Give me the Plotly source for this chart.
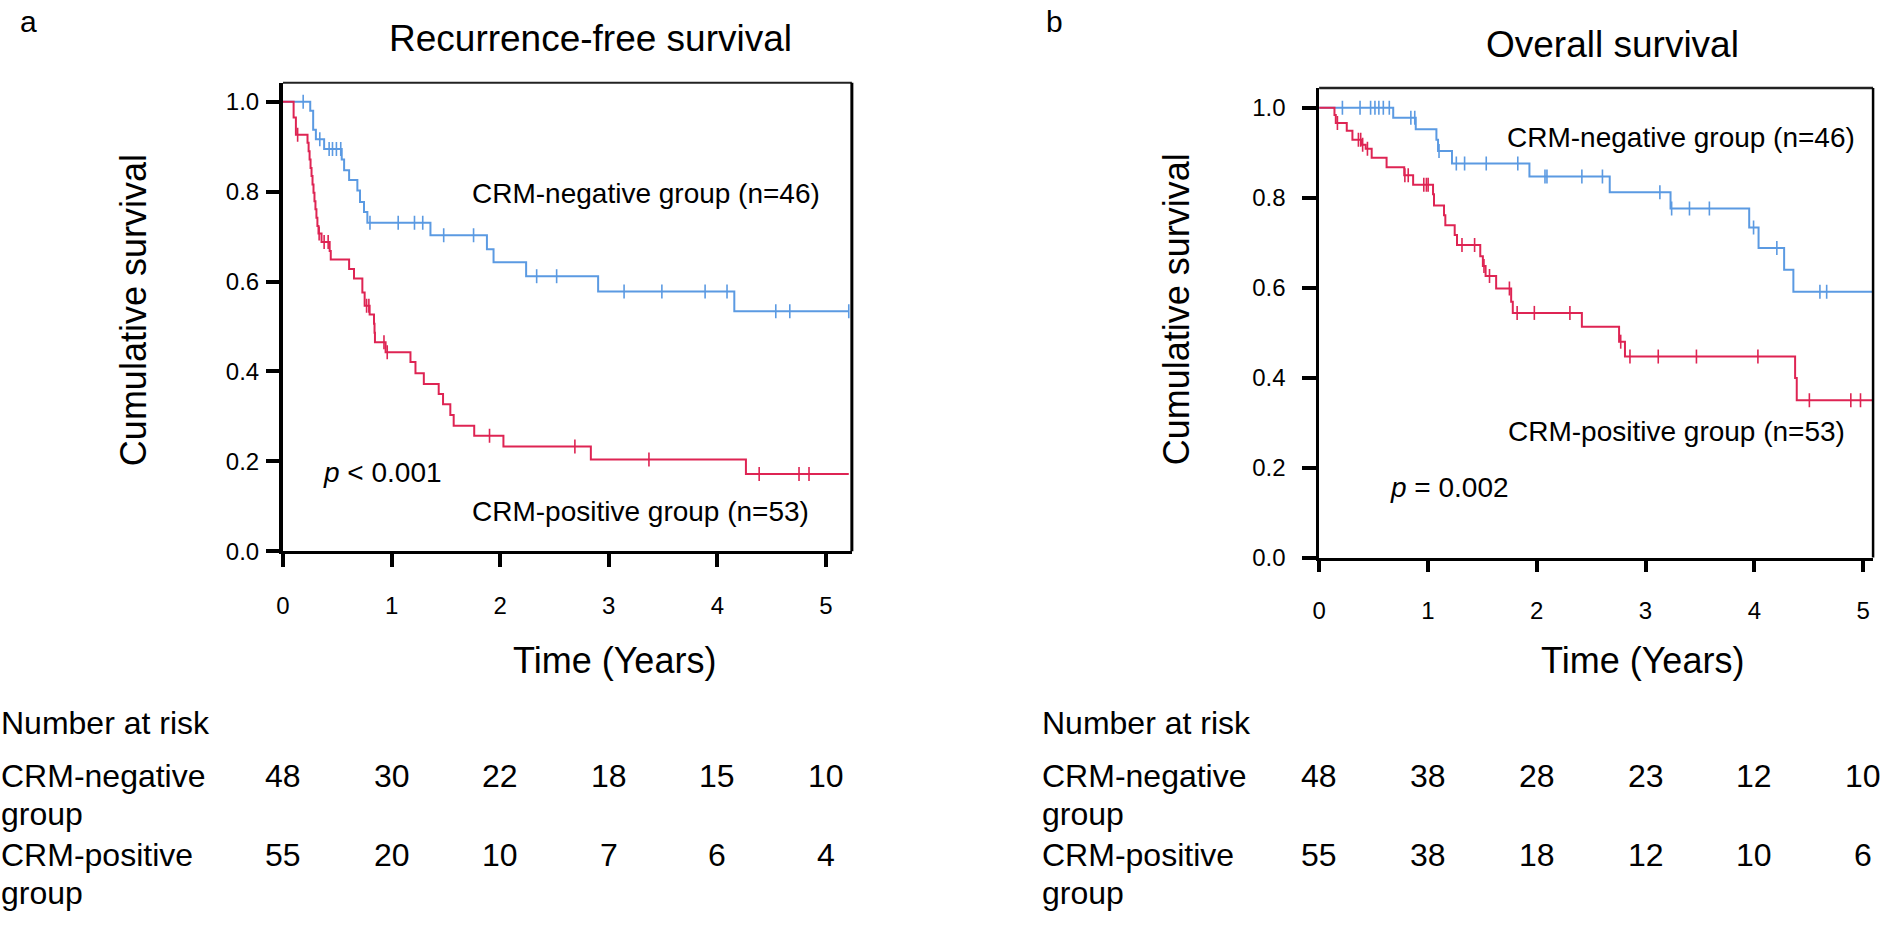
import numpy as np
import plotly.graph_objects as go

# ---------------- data ----------------
# Recurrence-free survival, CRM-negative group
rfs_neg_time = [0.251, 0.278, 0.303, 0.379, 0.541, 0.563, 0.609, 0.685, 0.709, 0.746,
                0.777, 1.358, 1.878, 1.939, 2.239, 2.902, 4.156]
rfs_neg_surv = [0.980, 0.938, 0.917, 0.895, 0.872, 0.848, 0.826, 0.803, 0.777, 0.755,
                0.731, 0.703, 0.672, 0.643, 0.612, 0.578, 0.534]
rfs_neg_cens = [0.186, 0.339, 0.425, 0.456, 0.492, 0.532, 0.801, 1.061, 1.211, 1.287,
                1.480, 1.755, 2.336, 2.520, 3.141, 3.489, 3.887, 4.089, 4.538, 4.667, 5.21]

# Recurrence-free survival, CRM-positive group
rfs_pos_time = [0.098, 0.119, 0.226, 0.236, 0.245, 0.254, 0.263, 0.272, 0.281, 0.290,
                0.299, 0.308, 0.317, 0.327, 0.355, 0.430, 0.440, 0.609, 0.654, 0.731,
                0.752, 0.798, 0.838, 0.843, 0.847, 0.945, 1.174, 1.220, 1.297, 1.434,
                1.474, 1.541, 1.572, 1.761, 2.030, 2.835, 4.263]
rfs_pos_surv = [0.965, 0.927, 0.909, 0.890, 0.872, 0.853, 0.835, 0.816, 0.798, 0.779,
                0.761, 0.742, 0.724, 0.707, 0.688, 0.668, 0.649, 0.628, 0.607, 0.576,
                0.546, 0.527, 0.506, 0.486, 0.465, 0.443, 0.421, 0.396, 0.372, 0.350,
                0.327, 0.303, 0.279, 0.257, 0.233, 0.204, 0.172]
rfs_pos_cens = [0.135, 0.333, 0.379, 0.416, 0.770, 0.791, 0.930, 0.960, 1.902, 2.688,
                3.370, 4.385, 4.752, 4.844]

# Overall survival, CRM-negative group
os_neg_time = [0.681, 0.888, 1.078, 1.093, 1.221, 1.933, 2.671, 3.230, 3.953, 4.039,
               4.274, 4.359]
os_neg_surv = [0.978, 0.952, 0.929, 0.904, 0.876, 0.847, 0.812, 0.776, 0.734, 0.688,
               0.640, 0.591]
os_neg_cens = [0.214, 0.376, 0.473, 0.513, 0.549, 0.590, 0.645, 0.843, 0.879, 1.102,
               1.261, 1.337, 1.536, 1.826, 2.076, 2.094, 2.415, 2.604, 3.132, 3.240,
               3.404, 3.587, 3.993, 4.207, 4.603, 4.665]

# Overall survival, CRM-positive group
os_pos_time = [0.141, 0.153, 0.254, 0.306, 0.391, 0.428, 0.483, 0.620, 0.782, 0.864,
               1.047, 1.056, 1.148, 1.160, 1.246, 1.267, 1.481, 1.505, 1.530, 1.627,
               1.765, 1.780, 2.415, 2.757, 2.811, 4.375, 4.390]
os_pos_surv = [0.984, 0.966, 0.949, 0.929, 0.918, 0.909, 0.889, 0.868, 0.850, 0.829,
               0.808, 0.783, 0.761, 0.739, 0.717, 0.695, 0.670, 0.648, 0.626, 0.598,
               0.569, 0.544, 0.513, 0.480, 0.447, 0.399, 0.350]
os_pos_cens = [0.168, 0.361, 0.382, 0.400, 0.444, 0.788, 0.819, 0.962, 0.986, 1.002,
               1.313, 1.429, 1.515, 1.566, 1.749, 1.820, 1.978, 2.305, 2.772, 2.857,
               3.117, 3.468, 4.033, 4.506, 4.887, 4.976]

rfs_end, os_end = 5.21, 5.09

# Number at risk at years 0..5
risk_years = [0, 1, 2, 3, 4, 5]
rfs_risk_neg = [48, 30, 22, 18, 15, 10]
rfs_risk_pos = [55, 20, 10, 7, 6, 4]
os_risk_neg = [48, 38, 28, 23, 12, 10]
os_risk_pos = [55, 38, 18, 12, 10, 6]

x_ticks = [0, 1, 2, 3, 4, 5]
y_ticks = [0.0, 0.2, 0.4, 0.6, 0.8, 1.0]

BLUE = "#5b9ae2"
RED = "#de2453"
FONT = "Liberation Sans, Arial, sans-serif"
W, H = 1894, 932


def px(x):
    return x / W


def py(y):
    return 1 - y / H


def surv_at(times, surv, q):
    idx = np.searchsorted(np.asarray(times), np.asarray(q), side="right") - 1
    s = np.concatenate([[1.0], np.asarray(surv)])
    return s[idx + 1]


fig = go.Figure()


def add_curve(times, surv, cens, end, color, xa, ya):
    x = [0.0] + list(times) + [end]
    y = [1.0] + list(surv) + [surv[-1]]
    fig.add_trace(go.Scatter(x=x, y=y, mode="lines", line=dict(color=color, width=2, shape="hv"),
                             xaxis=xa, yaxis=ya, showlegend=False, hoverinfo="skip"))
    fig.add_trace(go.Scatter(x=cens, y=surv_at(times, surv, cens), mode="markers",
                             marker=dict(symbol="line-ns", size=10,
                                         line=dict(color=color, width=1.6)),
                             xaxis=xa, yaxis=ya, showlegend=False, hoverinfo="skip"))


add_curve(rfs_neg_time, rfs_neg_surv, rfs_neg_cens, rfs_end, BLUE, "x", "y")
add_curve(rfs_pos_time, rfs_pos_surv, rfs_pos_cens, rfs_end, RED, "x", "y")
add_curve(os_neg_time, os_neg_surv, os_neg_cens, os_end, BLUE, "x2", "y2")
add_curve(os_pos_time, os_pos_surv, os_pos_cens, os_end, RED, "x2", "y2")

tickfont = dict(family=FONT, size=24, color="black")
common_x = dict(tickvals=x_ticks, ticktext=[str(v) for v in x_ticks], ticks="outside",
                tickwidth=4, tickcolor="black", showline=True, linecolor="black",
                showgrid=False, zeroline=False, tickfont=tickfont)
common_y = dict(tickvals=y_ticks, tickformat=".1f", ticks="outside", tickwidth=4,
                tickcolor="black", showline=True, linecolor="black", showgrid=False,
                zeroline=False, tickfont=tickfont)

fig.update_layout(
    width=W, height=H, margin=dict(l=0, r=0, t=0, b=0),
    paper_bgcolor="white", plot_bgcolor="white",
    xaxis=dict(domain=[px(277), px(848)], range=[0, (848 - 277) / 109.0], anchor="y",
               linewidth=3, ticklen=13, ticklabelstandoff=18, **common_x),
    yaxis=dict(domain=[py(559), py(84)], range=[0, (559 - 84) / 455.7], anchor="x",
               linewidth=4, ticklen=13, ticklabelstandoff=2, **common_y),
    xaxis2=dict(domain=[px(1317), px(1873)], range=[0, (1873 - 1317) / 109.2], anchor="y2",
                linewidth=2.5, ticklen=12, ticklabelstandoff=18, **common_x),
    yaxis2=dict(domain=[py(565.5), py(89.3)], range=[0, (565.5 - 89.3) / 456.2], anchor="x2",
                linewidth=2.5, ticklen=14, ticklabelstandoff=12, **common_y),
)

# top and right frame lines of each panel
for xr, yr, wt, wr in [("x", "y", 2, 3), ("x2", "y2", 2.5, 2.5)]:
    fig.add_shape(type="line", xref=f"{xr} domain", yref=f"{yr} domain", x0=0, x1=1, y0=1, y1=1,
                  line=dict(color="#222222", width=wt))
    fig.add_shape(type="line", xref=f"{xr} domain", yref=f"{yr} domain", x0=1, x1=1, y0=0, y1=1,
                  line=dict(color="black", width=wr))


def text(s, x, y, size, xanchor="center", angle=0, xref="paper"):
    fig.add_annotation(text=s, x=x, y=y, xref=xref, yref="paper", showarrow=False,
                       xanchor=xanchor, yanchor="middle", textangle=angle,
                       font=dict(family=FONT, size=size, color="black"))


# panel letters and titles
text("a", px(22), py(22), 30)
text("b", px(1051), py(22), 30)
text("Recurrence-free survival", px(586), py(39), 37)
text("Overall survival", px(1611), py(45), 37)

# axis titles
text("Cumulative survival", px(127), py(315), 36, angle=-90)
text("Cumulative survival", px(1174), py(314), 36, angle=-90)
text("Time (Years)", px(610), py(670), 36)
text("Time (Years)", px(1642), py(670), 36)

# in-plot labels
text("CRM-negative group (n=46)", px(465), py(196), 28, xanchor="left")
text("CRM-positive group (n=53)", px(465), py(519), 28, xanchor="left")
text("<i>p</i> &lt; 0.001", px(315), py(479), 28, xanchor="left")
text("CRM-negative group (n=46)", px(1504), py(139), 28, xanchor="left")
text("CRM-positive group (n=53)", px(1505), py(438), 28, xanchor="left")
text("<i>p</i> = 0.002", px(1386), py(494), 28, xanchor="left")

# number-at-risk tables
rows_y = [733, 787, 826, 867, 906]
for left, xa, neg, pos in [(-8, "x", rfs_risk_neg, rfs_risk_pos),
                           (1037, "x2", os_risk_neg, os_risk_pos)]:
    text("Number at risk", px(left), py(rows_y[0]), 32, xanchor="left")
    text("CRM-negative", px(left), py(rows_y[1]), 32, xanchor="left")
    text("group", px(left), py(rows_y[2]), 32, xanchor="left")
    text("CRM-positive", px(left), py(rows_y[3]), 32, xanchor="left")
    text("group", px(left), py(rows_y[4]), 32, xanchor="left")
    for yr, n in zip(risk_years, neg):
        text(str(n), yr, py(rows_y[1]), 32, xref=xa)
    for yr, n in zip(risk_years, pos):
        text(str(n), yr, py(rows_y[3]), 32, xref=xa)

fig.write_html("out.html")
